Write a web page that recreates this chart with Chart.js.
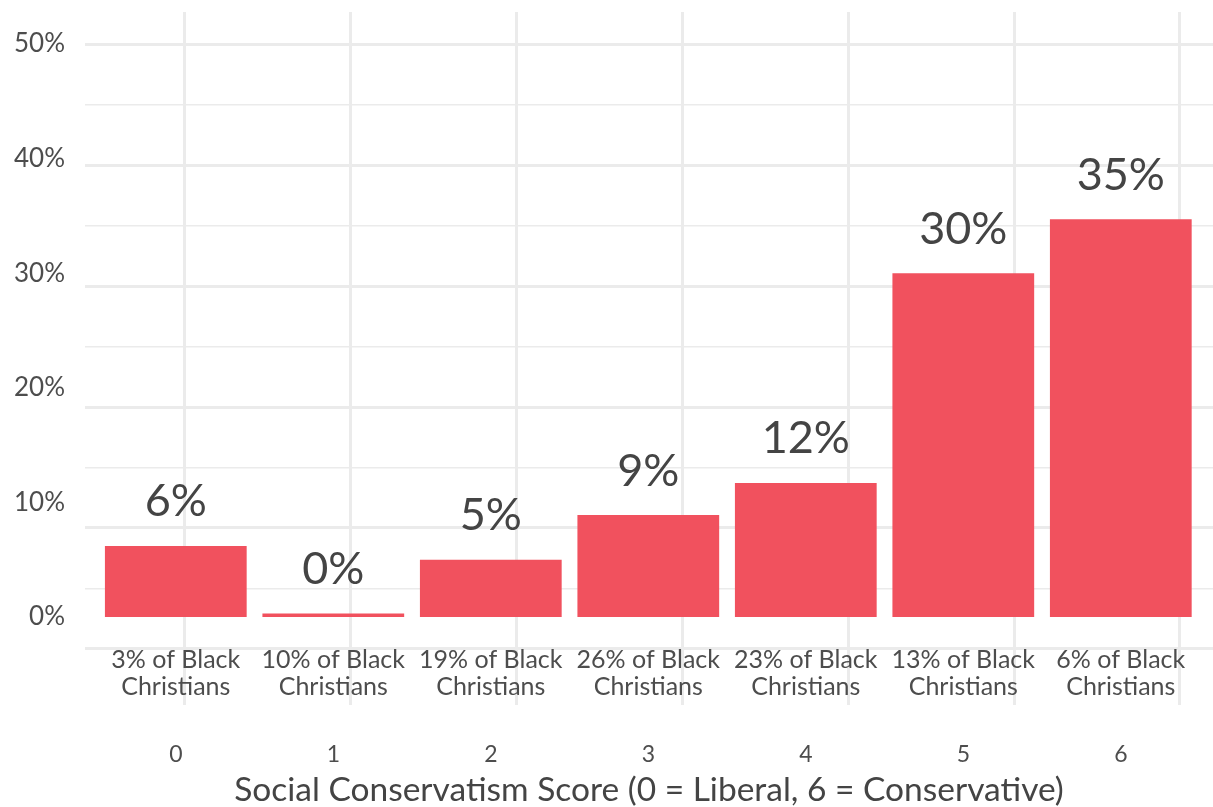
<!DOCTYPE html>
<html>
<head>
<meta charset="utf-8">
<script src="https://cdn.jsdelivr.net/npm/chart.js@4"></script>
<style>
  html, body { margin: 0; padding: 0; background: #fff; }
  #wrap { width: 1213px; height: 807px; }
</style>
</head>
<body>
<div id="wrap"><canvas id="scoreChart"></canvas></div>
<script>
// social conservatism score buckets
const scores = [0, 1, 2, 3, 4, 5, 6];
// bar heights, % of respondents in each score
const shareOfRespondents = [6.2, 0.3, 5.0, 8.9, 11.7, 30.0, 34.7];
// share of Black Christians in each score (text under the bars)
const shareOfBlackChristians = ["3%", "10%", "19%", "26%", "23%", "13%", "6%"];
const yTicks = [0, 10, 20, 30, 40, 50];
const gridSteps = [0, 1, 2, 3, 4, 5, 6, 7, 8, 9, 10];

const FONT = "Lato";
const TEXT = "#4d4d4d";

const barText = {
  id: "barText",
  afterDatasetsDraw(chart) {
    const { ctx } = chart;
    const yScale = chart.scales.y;
    const meta = chart.getDatasetMeta(0);
    ctx.save();
    ctx.textAlign = "center";
    ctx.textBaseline = "middle";
    meta.data.forEach((bar, i) => {
      ctx.fillStyle = "#444";
      ctx.font = "45px " + FONT;
      ctx.fillText(Math.round(shareOfRespondents[i]) + "%", bar.x, bar.y - 44);

      ctx.fillStyle = TEXT;
      ctx.font = "25px " + FONT;
      const lineY = yScale.getPixelForValue(-3.75);
      ctx.fillText(shareOfBlackChristians[i] + " of Black", bar.x, lineY);
      ctx.fillText("Christians", bar.x, lineY + 27);
    });
    ctx.restore();
  },
};

// keep the panel exactly where the axes say, no label overflow padding
const noPad = (s) => {
  s.paddingTop = 0;
  s.paddingBottom = 0;
  s.paddingLeft = 0;
  s.paddingRight = 0;
};

document.addEventListener("DOMContentLoaded", () => {
  const ctx = document.getElementById("scoreChart").getContext("2d");

  new Chart(ctx, {
    type: "bar",
    data: {
      datasets: [
        {
          data: scores.map((s, i) => ({ x: s, y: shareOfRespondents[i] })),
          backgroundColor: "#f1515e",
          borderWidth: 0,
          barPercentage: 0.9,
          categoryPercentage: 1.0,
          xAxisID: "x",
          yAxisID: "y",
        },
      ],
    },
    options: {
      responsive: true,
      maintainAspectRatio: false,
      animation: false,
      layout: { padding: { top: 12, left: 0, right: 0, bottom: 0 } },
      plugins: {
        legend: { display: false },
        tooltip: { enabled: false },
      },
      scales: {
        // bars + tick labels 0..6
        x: {
          type: "linear",
          position: "bottom",
          offset: false,
          min: -0.5765,
          max: 6.5854,
          afterBuildTicks: (s) => { s.ticks = scores.map((v) => ({ value: v })); },
          afterFit: (s) => { s.height = 102; noPad(s); },
          grid: { display: false, drawTicks: false, offset: false },
          border: { display: false },
          ticks: {
            padding: 36,
            color: TEXT,
            font: { family: FONT, size: 23 },
            callback: (v) => v,
          },
          title: {
            display: true,
            text: "Social Conservatism Score (0 = Liberal, 6 = Conservative)",
            color: "#444",
            font: { family: FONT, size: 33.5 },
            padding: { top: 0, bottom: -3 },
          },
        },
        // panel grid (vertical lines)
        xGrid: {
          type: "linear",
          position: "bottom",
          offset: false,
          min: -0.603,
          max: 6.199,
          afterBuildTicks: (s) => { s.ticks = scores.map((v) => ({ value: v })); },
          afterFit: (s) => { s.height = 0; noPad(s); },
          ticks: { display: false },
          grid: { color: "#ebebeb", lineWidth: 3, drawTicks: false, offset: false },
          border: { display: false },
        },
        y: {
          type: "linear",
          position: "left",
          min: -7.68,
          max: 52.79,
          afterBuildTicks: (s) => { s.ticks = yTicks.map((v) => ({ value: v })); },
          afterFit: (s) => { s.width = 85; noPad(s); },
          grid: { display: false, drawTicks: false },
          border: { display: false },
          ticks: {
            padding: 20,
            color: TEXT,
            font: { family: FONT, size: 26 },
            callback: (v) => v + "%",
          },
        },
        // panel grid (horizontal lines, major + minor)
        yGrid: {
          type: "linear",
          position: "left",
          min: -0.926,
          max: 10.53,
          afterBuildTicks: (s) => { s.ticks = gridSteps.map((v) => ({ value: v })); },
          afterFit: (s) => { s.width = 0; noPad(s); },
          ticks: { display: false },
          grid: {
            color: "#ebebeb",
            lineWidth: (c) => (c.tick && c.tick.value % 2 === 0 ? 3 : 1.5),
            drawTicks: false,
          },
          border: { display: false },
        },
      },
    },
    plugins: [barText],
  });
});
</script>
</body>
</html>
